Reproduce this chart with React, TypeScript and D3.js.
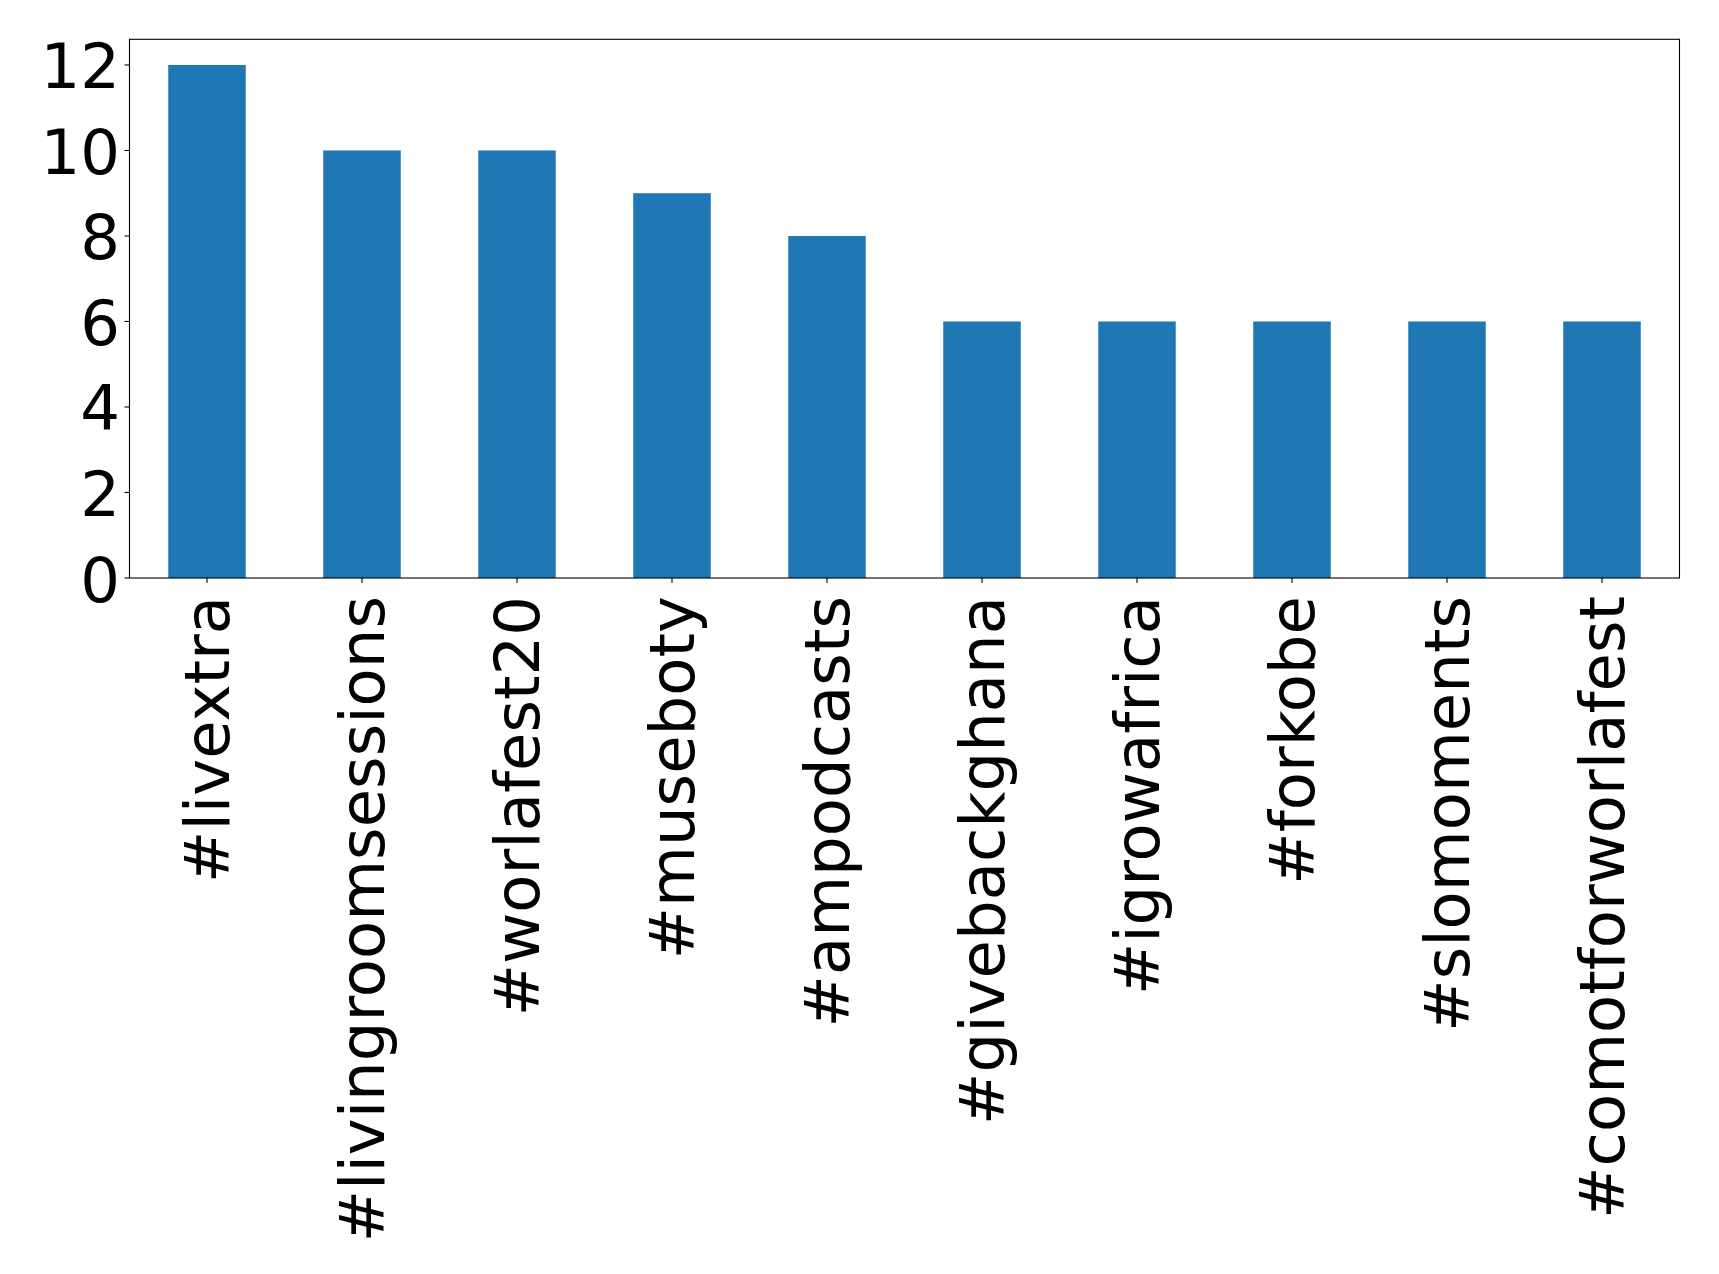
import React from "react";
import * as d3 from "d3";

const categories = [
  "#livextra",
  "#livingroomsessions",
  "#worlafest20",
  "#museboty",
  "#ampodcasts",
  "#givebackghana",
  "#igrowafrica",
  "#forkobe",
  "#slomoments",
  "#comotforworlafest",
];
const counts = [12, 10, 10, 9, 8, 6, 6, 6, 6, 6];
const yTicks = [0, 2, 4, 6, 8, 10, 12];

const W = 1719;
const H = 1274;
const left = 129.5;
const right = 1679.5;
const top = 39.3;
const bottom = 578;
const font = "'DejaVu Sans', sans-serif";
const fs = 62.5;

export default function App() {
  const x = d3
    .scaleBand<string>()
    .domain(categories)
    .range([left, right])
    .paddingInner(0.5)
    .paddingOuter(0.25);
  const y = d3.scaleLinear().domain([0, 12.6]).range([bottom, top]);

  return (
    <svg
      width={W}
      height={H}
      style={{ position: "absolute", left: 0, top: 0, background: "#fff" }}
    >
      <rect x={0} y={0} width={W} height={H} fill="#fff" />
      {categories.map((c, i) => (
        <rect
          key={c}
          x={x(c)}
          y={y(counts[i])}
          width={x.bandwidth()}
          height={y(0) - y(counts[i])}
          fill="#1f77b4"
        />
      ))}
      <rect
        x={left}
        y={top}
        width={right - left}
        height={bottom - top}
        fill="none"
        stroke="#000"
        strokeWidth={1.1}
      />
      {yTicks.map((t) => (
        <g key={t}>
          <line x1={left - 5} x2={left} y1={y(t)} y2={y(t)} stroke="#000" strokeWidth={1.1} />
          <text
            x={120}
            y={y(t)}
            dy={23.5}
            textAnchor="end"
            fontFamily={font}
            fontSize={fs}
            fill="#000"
          >
            {t}
          </text>
        </g>
      ))}
      {categories.map((c) => {
        const cx = (x(c) as number) + x.bandwidth() / 2;
        return (
          <g key={c}>
            <line x1={cx} x2={cx} y1={bottom} y2={bottom + 5} stroke="#000" strokeWidth={1.1} />
            <text
              transform={`translate(${cx},596) rotate(-90)`}
              x={0}
              y={22}
              textAnchor="end"
              fontFamily={font}
              fontSize={fs}
              fill="#000"
            >
              {c}
            </text>
          </g>
        );
      })}
    </svg>
  );
}
